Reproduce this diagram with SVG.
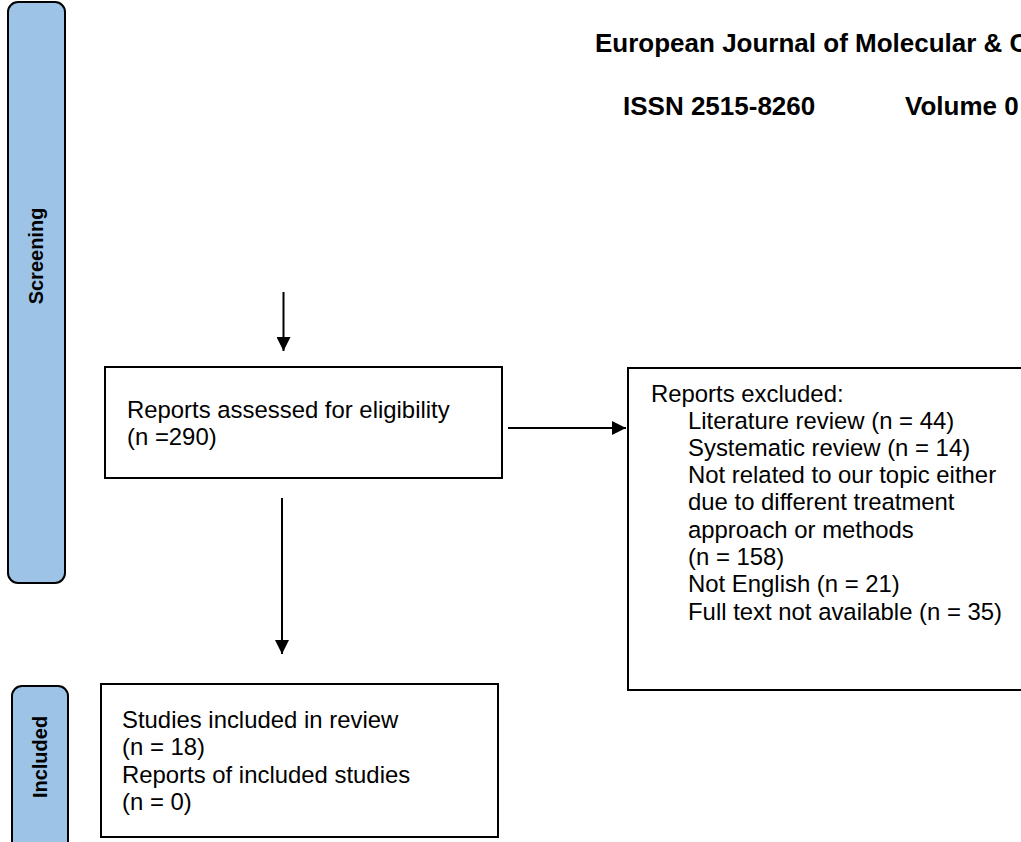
<svg xmlns="http://www.w3.org/2000/svg" width="1021" height="842" viewBox="0 0 1021 842">
<defs>
<marker id="ah" viewBox="0 0 10 10" refX="10" refY="5" markerWidth="7" markerHeight="7" markerUnits="strokeWidth" orient="auto">
<path d="M0,0 L10,5 L0,10 z" fill="#000"/>
</marker>
<style>
.box{fill:#fff;stroke:#000;stroke-width:2}
.bar{fill:#9DC3E6;stroke:#000;stroke-width:2}
.t{font-family:"Liberation Sans",Arial,sans-serif;font-size:23.9px;fill:#000}
.h{font-family:"Liberation Sans",Arial,sans-serif;font-size:26px;font-weight:bold;fill:#000}
.v{font-family:"Liberation Sans",Arial,sans-serif;font-size:20px;font-weight:bold;fill:#000}
.c{fill:none;stroke:#000;stroke-width:2}
</style>
</defs>
<rect width="1021" height="842" fill="#fff"/>
<g id="header">
<text class="h" x="595" y="52">European Journal of Molecular &amp; C</text>
<text class="h" x="623" y="115">ISSN 2515-8260</text>
<text class="h" x="905" y="115">Volume 0</text>
</g>
<g id="stage-screening">
<rect class="bar" x="8" y="2" width="57" height="581" rx="10"/>
<text class="v" transform="translate(43,256) rotate(-90)" text-anchor="middle">Screening</text>
</g>
<g id="stage-included">
<rect class="bar" x="12" y="686" width="56" height="170" rx="10"/>
<text class="v" transform="translate(47,757) rotate(-90)" text-anchor="middle">Included</text>
</g>
<g id="assessed">
<rect class="box" x="105" y="367" width="397" height="111"/>
<text class="t" x="127" y="418">Reports assessed for eligibility</text>
<text class="t" x="127" y="445">(n =290)</text>
</g>
<g id="excluded">
<rect class="box" x="628" y="368" width="420" height="322"/>
<text class="t" x="651" y="402">Reports excluded:</text>
<text class="t" x="688" y="429">Literature review (n = 44)</text>
<text class="t" x="688" y="456">Systematic review (n = 14)</text>
<text class="t" x="688" y="483">Not related to our topic either</text>
<text class="t" x="688" y="510">due to different treatment</text>
<text class="t" x="688" y="538">approach or methods</text>
<text class="t" x="688" y="565">(n = 158)</text>
<text class="t" x="688" y="592">Not English (n = 21)</text>
<text class="t" x="688" y="620">Full text not available (n = 35)</text>
</g>
<g id="included">
<rect class="box" x="101" y="684" width="397" height="153"/>
<text class="t" x="122" y="728">Studies included in review</text>
<text class="t" x="122" y="755">(n = 18)</text>
<text class="t" x="122" y="783">Reports of included studies</text>
<text class="t" x="122" y="810">(n = 0)</text>
</g>
<g id="connectors">
<line class="c" x1="283.5" y1="292" x2="283.5" y2="351" marker-end="url(#ah)"/>
<line class="c" x1="508" y1="428" x2="626" y2="428" marker-end="url(#ah)"/>
<line class="c" x1="282" y1="498" x2="282" y2="654" marker-end="url(#ah)"/>
</g>
</svg>
